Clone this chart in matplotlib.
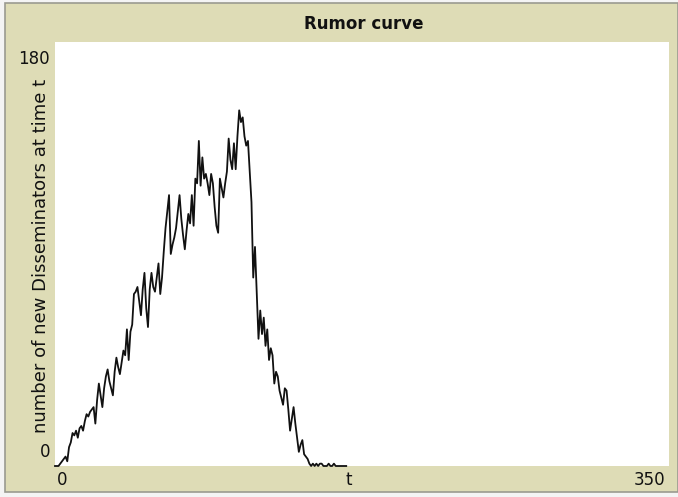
import numpy as np
import matplotlib.pyplot as plt

# new disseminators per tick
ticks = list(range(0, 167))
new_disseminators = [
    0, 0, 0, 1, 2, 3, 4, 2, 8, 10,
    14, 13, 15, 12, 16, 17, 15, 19, 22, 21,
    23, 24, 25, 18, 28, 35, 30, 25, 33, 38,
    41, 36, 33, 30, 40, 46, 42, 39, 44, 49,
    47, 58, 45, 57, 60, 73, 74, 76, 70, 64,
    75, 82, 67, 59, 75, 82, 76, 74, 80, 86,
    73, 80, 91, 101, 108, 115, 90, 94, 97, 101,
    108, 115, 105, 98, 92, 100, 107, 103, 115, 102,
    122, 120, 138, 119, 131, 122, 124, 120, 115, 124,
    120, 110, 102, 99, 122, 118, 114, 120, 125, 139,
    130, 126, 137, 126, 140, 151, 146, 148, 140, 136,
    138, 125, 112, 80, 93, 74, 54, 66, 56, 63,
    51, 58, 45, 50, 47, 35, 40, 38, 32, 29,
    26, 33, 32, 24, 15, 20, 25, 18, 12, 6,
    9, 11, 5, 4, 3, 1, 0, 1, 0, 1,
    0, 1, 1, 0, 0, 0, 1, 0, 0, 1,
    0, 0, 0, 0, 0, 0, 0,
]

title = "Rumor curve"
x_label = "t"
y_label = "number of new Disseminators at time t"
x_min, x_max = 0, 350
y_min, y_max = 0, 180

W, H = 678, 497
panel = "#dedcb6"

fig = plt.figure(figsize=(W / 100, H / 100), dpi=100)
fig.patch.set_facecolor("#f4f4f4")

# beige widget panel with a thin grey frame (kept behind the axes)
frame = plt.Rectangle((5 / W, 5 / H), (W - 5) / W, (H - 8) / H,
                      transform=fig.transFigure, facecolor=panel,
                      edgecolor="#9a9a90", linewidth=1.2, zorder=-5)
fig.patches.append(frame)

left, right, top, bottom = 55, 669, 42, 466
ax = fig.add_axes([left / W, 1 - bottom / H, (right - left) / W, (bottom - top) / H])
ax.set_zorder(2)
ax.set_facecolor("white")
ax.plot(ticks, new_disseminators, color="#111111", linewidth=1.3, clip_on=False)
ax.set_xlim(x_min, x_max)
ax.set_ylim(y_min, y_max)
for s in ax.spines.values():
    s.set_visible(False)
ax.set_xticks([])
ax.set_yticks([])

def px(x, y, s, size=12, **kw):
    fig.text(x / W, 1 - y / H, s, fontsize=size, color="#111111", **kw)

px(364, 24, title, size=12, ha="center", va="center", fontweight="bold")
px(50, 59, str(y_max), ha="right", va="center")
px(50, 452, str(y_min), ha="right", va="center")
px(57, 480, str(x_min), ha="left", va="center")
px(349, 480, x_label, ha="center", va="center")
px(665, 480, str(x_max), ha="right", va="center")
px(41, 256, y_label, size=13, ha="center", va="center", rotation=90)

fig.savefig("out.png", dpi=100)
